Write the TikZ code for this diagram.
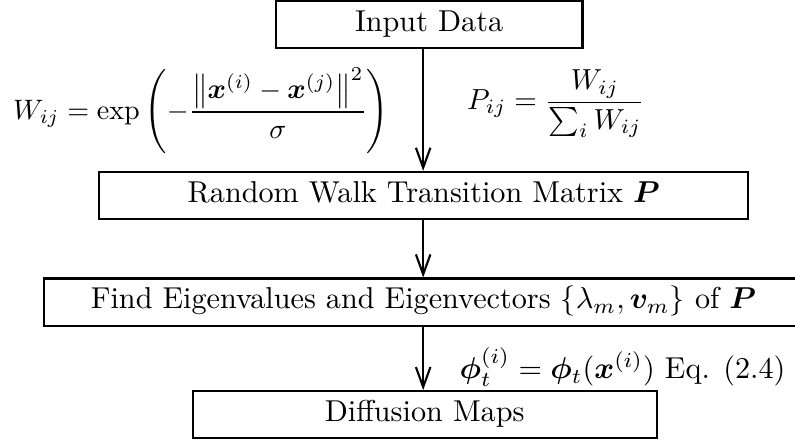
\documentclass[tikz,border=0pt]{standalone}
\usepackage{amsmath}
\usepackage{bm}
\usetikzlibrary{arrows.meta}
\begin{document}
\begin{tikzpicture}[x=1pt,y=1pt,
  stepbox/.style={draw, line width=0.7pt, inner xsep=0pt, inner ysep=3.1pt,
    text height=6.9pt, text depth=2.5pt, minimum height=15.4pt},
  flow/.style={line width=0.7pt, -{Straight Barb[length=6.6pt,width=4.8pt,line width=0.7pt]}},
  formula/.style={anchor=base west, inner sep=0pt}]
\useasboundingbox (0,0) rectangle (263.2,-145.4);
\coordinate (ax) at (140.1,0);
\node[stepbox, minimum width=101.6pt] (in) at (142.05,-8.2) {Input Data};
\node[stepbox, minimum width=214.9pt] (rw) at (140.3,-64.7) {Random Walk Transition Matrix $\bm{P}$};
\node[stepbox, minimum width=251.3pt] (eig) at (140.2,-100.0) {Find Eigenvalues and Eigenvectors $\{\lambda_m,\bm{v}_m\}$ of $\bm{P}$};
\node[stepbox, minimum width=153.6pt] (dm) at (140.6,-137.3) {Diffusion Maps};
\draw[flow] (in.south -| ax) -- (rw.north -| ax);
\draw[flow] (rw.south -| ax) -- (eig.north -| ax);
\draw[flow] (eig.south -| ax) -- (dm.north -| ax);
\node[formula, scale=0.93] (wf) at (4.2,-39.4)
  {$\displaystyle W_{ij}=\exp\left(-\frac{\left\|\bm{x}^{(i)}-\bm{x}^{(j)}\right\|^2}{\sigma}\right)$};
\node[formula, scale=0.96] (pf) at (154.5,-36.2)
  {$\displaystyle P_{ij}=\frac{W_{ij}}{\sum_i W_{ij}}$};
\node[formula] (ff) at (152.0,-125.4)
  {$\bm{\phi}_t^{(i)}=\bm{\phi}_t(\bm{x}^{(i)})$ Eq. (2.4)};
\end{tikzpicture}
\end{document}
